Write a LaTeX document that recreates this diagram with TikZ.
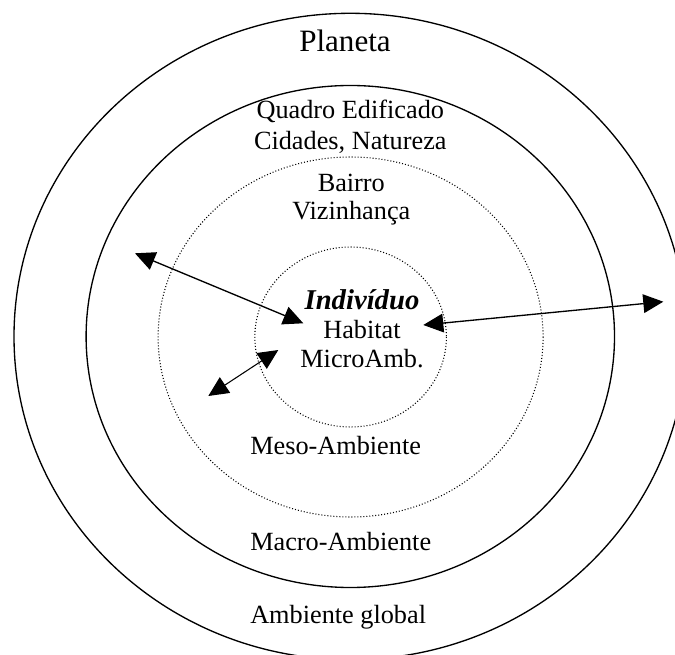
\documentclass[tikz,border=0pt]{standalone}
\usepackage{fontspec}
\setmainfont{Liberation Serif}
\usetikzlibrary{arrows.meta}
\tikzset{
  ring/.style={line width=1pt},
  dotring/.style={line width=0.8pt, dash pattern=on 0.75pt off 1.5pt},
  link/.style={{Triangle[length=15pt,width=14pt]}-{Triangle[length=15pt,width=14pt]}, line width=1pt},
  ringtext/.style={inner sep=0pt, anchor=base, align=center, font=\fontsize{19.7}{22}\selectfont}
}
\begin{document}
\begin{tikzpicture}[x=0.75pt,y=-0.75pt]
    \clip (0,0) rectangle (675,655);
    \coordinate (ctr) at (350.3,336.5);
    % solid rings
    \foreach \rx/\ry in {336.3/323.2,264.2/251}
    \draw[ring] (ctr) ellipse [x radius=\rx, y radius=\ry];
    % dotted rings
    \foreach \rx/\ry in {192.5/180,95.8/90}
    \draw[dotring] (350.6,337) ellipse [x radius=\rx, y radius=\ry];
    % texts (multi-line nodes sit on the baseline of their last line)
    \node[ringtext, font=\fontsize{23.3}{28}\selectfont] (planeta) at (345,51.7) {Planeta};
    \node[ringtext, font=\fontsize{19.7}{23.4}\selectfont] (quadro) at (350.3,149.3) {Quadro Edificado\\Cidades, Natureza};
    \node[ringtext, font=\fontsize{19.7}{21.2}\selectfont] (bairro) at (351.3,220) {Bairro\\Vizinhança};
    \node[ringtext, font=\fontsize{19.7}{21.75}\selectfont] (individuo) at (362,367.3)
        {{\fontsize{21.5}{21.75}\selectfont\bfseries\itshape Indivíduo}\\Habitat\\MicroAmb.};
    \node[ringtext, anchor=base west] (meso) at (250,455) {Meso-Ambiente};
    \node[ringtext, anchor=base west] (macro) at (250,551) {Macro-Ambiente};
    \node[ringtext, anchor=base west] (global) at (250,623.3) {Ambiente global};
    % arrows
    \coordinate (a1) at (135,253.3);
    \coordinate (a2) at (303.3,323.3);
    \coordinate (b1) at (423.3,325);
    \coordinate (b2) at (663.3,301.7);
    \coordinate (c1) at (208.3,396);
    \coordinate (c2) at (278.3,350);
    \draw[link] (a1) -- (a2);
    \draw[link] (b1) -- (b2);
    \draw[link, line width=0.8pt] (c1) -- (c2);
\end{tikzpicture}
\end{document}
